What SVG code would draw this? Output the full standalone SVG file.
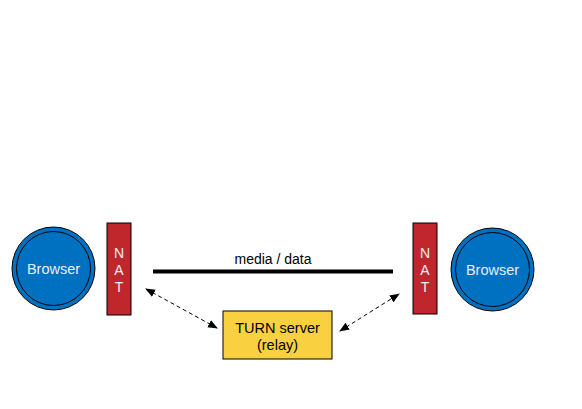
<svg xmlns="http://www.w3.org/2000/svg" width="582" height="409" viewBox="0 0 582 409">
<defs>
<style>
text{font-family:"Liberation Sans",Arial,sans-serif;font-size:14px;text-anchor:middle}
.big{font-size:14.5px}
.outer{fill:#0070c0;stroke:#000;stroke-width:1}
.inner{fill:none;stroke:#000;stroke-width:1}
.lt{fill:#e8eef8}
.nat{fill:#c0272d;stroke:#000;stroke-width:1}
.dash{stroke:#000;stroke-width:1;stroke-dasharray:4 3;fill:none;marker-start:url(#ah);marker-end:url(#ah)}
</style>
<marker id="ah" viewBox="0 0 10 10" refX="9" refY="5" markerWidth="10" markerHeight="10" markerUnits="userSpaceOnUse" orient="auto-start-reverse">
<path d="M0,1 L10,5 L0,9 z" fill="#000"/>
</marker>
</defs>
<rect width="582" height="409" fill="#fff"/>
<g id="browser-left">
<circle class="outer" cx="53.5" cy="268.5" r="41.5"/>
<circle class="inner" cx="53.5" cy="268.5" r="37"/>
<text class="lt big" x="53.5" y="273.5">Browser</text>
</g>
<g id="nat-left">
<rect class="nat" x="107" y="223" width="24" height="92"/>
<text class="lt" x="119" y="258">N</text>
<text class="lt" x="119" y="275">A</text>
<text class="lt" x="119" y="292">T</text>
</g>
<g id="nat-right">
<rect class="nat" x="413" y="223" width="24" height="91"/>
<text class="lt" x="425" y="258">N</text>
<text class="lt" x="425" y="275">A</text>
<text class="lt" x="425" y="292">T</text>
</g>
<g id="browser-right">
<circle class="outer" cx="492.5" cy="269.5" r="41.5"/>
<circle class="inner" cx="492.5" cy="269.5" r="37"/>
<text class="lt big" x="492.5" y="274.5">Browser</text>
</g>
<g id="turn">
<rect x="223" y="311" width="109" height="48" fill="#f9d03f" stroke="#000" stroke-width="1"/>
<text class="big" x="277.5" y="333">TURN server</text>
<text class="big" x="277.5" y="350">(relay)</text>
</g>
<g id="connectors">
<line x1="153" y1="271.5" x2="393" y2="271.5" stroke="#000" stroke-width="4"/>
<text x="273" y="264">media / data</text>
<line class="dash" x1="146" y1="289" x2="217" y2="328"/>
<line class="dash" x1="340" y1="331" x2="399" y2="294"/>
</g>
</svg>
